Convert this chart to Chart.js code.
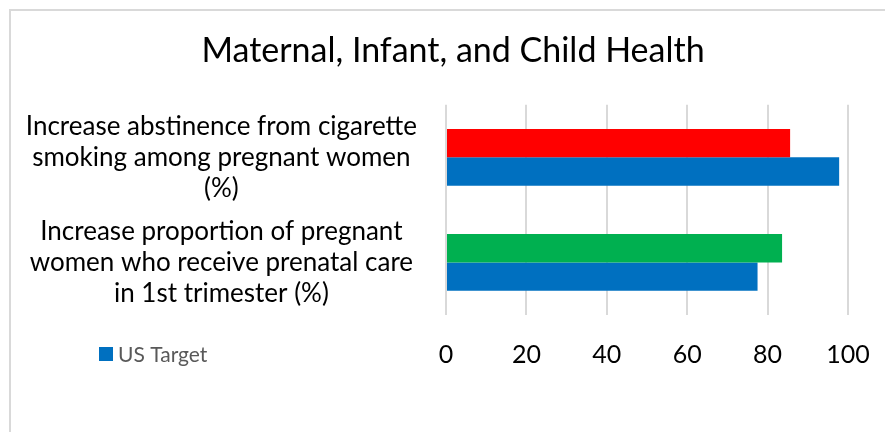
<!DOCTYPE html>
<html>
<head>
<meta charset="utf-8">
<script src="https://cdn.jsdelivr.net/npm/chart.js@4.4.1/dist/chart.umd.min.js"></script>
<style>
  html, body { margin: 0; padding: 0; background: #fff; }
  #wrap { position: relative; width: 885px; height: 432px; overflow: hidden; }
  #frame { position: absolute; left: 9px; top: 9px; width: 900px; height: 450px;
           border-left: 2px solid #d9d9d9; border-top: 2px solid #d9d9d9; }
  #c { position: absolute; left: 0; top: 0; }
</style>
</head>
<body>
<div id="wrap">
  <div id="frame"></div>
  <canvas id="c" width="885" height="432"></canvas>
</div>
<script>
// categories (multi-line labels as drawn)
const categories = [
    ['Increase abstinence from cigarette', 'smoking among pregnant women', '(%)'],
    ['Increase proportion of pregnant', 'women who receive prenatal care', 'in 1st trimester (%)']
];
const actualValues = [85.6, 83.6];
const actualColors = ['#ff0000', '#00b050'];
const targetValues = [97.8, 77.5];
const xTicks = [0, 20, 40, 60, 80, 100];

const FONT = "Lato, 'Open Sans', sans-serif";

// legend drawn beside the x tick row, like the Excel original
const sideLegend = {
    id: 'sideLegend',
    afterLayout(chart) {
        // Excel centres the title over the whole chart box, not the padded area
        chart.titleBlock.left = 58;
    },
    afterDraw(chart) {
        const ctx = chart.ctx;
        const ds = chart.data.datasets[1];
        const y = chart.chartArea.bottom + 39;
        ctx.save();
        ctx.fillStyle = ds.backgroundColor;
        ctx.fillRect(99, y - 7, 14, 14);
        ctx.fillStyle = '#595959';
        ctx.font = "21px " + FONT;
        ctx.textBaseline = 'middle';
        ctx.fillText(ds.label, 118, y + 1);
        ctx.restore();
    }
};

let chartConfig = {
    type: 'bar',
    data: {
        labels: categories,
        datasets: [{
            label: 'Actual',
            data: actualValues,
            backgroundColor: actualColors,
            borderWidth: 0,
            categoryPercentage: 0.54,
            barPercentage: 1.0
        }, {
            label: 'US Target',
            data: targetValues,
            backgroundColor: '#0070c0',
            borderWidth: 0,
            categoryPercentage: 0.54,
            barPercentage: 1.0
        }]
    },
    plugins: [sideLegend],
    options: {
        indexAxis: 'y',
        responsive: false,
        animation: false,
        layout: {
            padding: { left: 22, right: 37, top: 14, bottom: 40 }
        },
        plugins: {
            legend: { display: false },
            tooltip: { enabled: false },
            title: {
                display: true,
                text: 'Maternal, Infant, and Child Health',
                color: '#000',
                font: { family: FONT, size: 34, weight: 'normal' },
                padding: { top: 17, bottom: 33 }
            }
        },
        scales: {
            x: {
                min: 0,
                max: 100,
                afterBuildTicks(axis) {
                    axis.ticks = xTicks.map(v => ({ value: v }));
                },
                afterFit(axis) {
                    axis.height = 77;
                    axis.paddingLeft = 0;
                    axis.paddingRight = 0;
                },
                grid: { color: '#d9d9d9', lineWidth: 2, drawTicks: false },
                border: { display: false },
                ticks: {
                    color: '#000',
                    padding: 25,
                    maxRotation: 0,
                    font: { family: FONT, size: 25 }
                }
            },
            y: {
                afterFit(axis) {
                    axis.width = 424;
                },
                grid: { display: false },
                border: { display: false },
                ticks: {
                    color: '#000',
                    autoSkip: false,
                    crossAlign: 'center',
                    padding: 21,
                    font: { family: FONT, size: 26, lineHeight: 1.2 }
                }
            }
        }
    }
};

window.myBar = new Chart(document.getElementById('c').getContext('2d'), chartConfig);
</script>
</body>
</html>
